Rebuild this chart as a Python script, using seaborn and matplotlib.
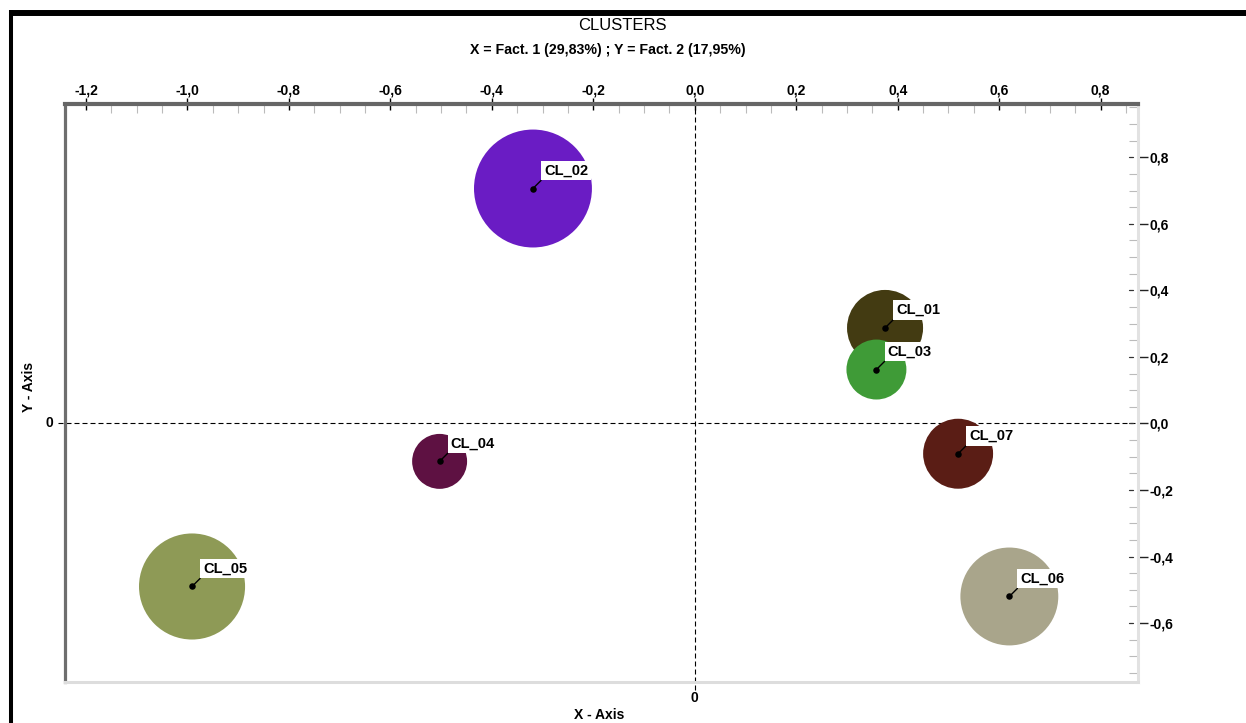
import numpy as np
import pandas as pd
import matplotlib
matplotlib.use("Agg")
import matplotlib.pyplot as plt
import matplotlib.ticker as mticker
import matplotlib.transforms as mtransforms
from matplotlib.lines import Line2D
import seaborn as sns

# Cluster centroids on the first factorial plane
clusters = ["CL_01", "CL_02", "CL_03", "CL_04", "CL_05", "CL_06", "CL_07"]
fact1 = [0.375, -0.319, 0.358, -0.503, -0.991, 0.620, 0.519]
fact2 = [0.287, 0.706, 0.162, -0.114, -0.490, -0.520, -0.091]
share = [11.1, 26.7, 6.9, 5.8, 21.6, 18.4, 9.4]   # % of individuals per cluster
colors = ["#433b12", "#6a1cc4", "#3f9b37", "#5e1142", "#8e9a56", "#a9a58b", "#5a1d15"]

x_ticks = [-1.2, -1.0, -0.8, -0.6, -0.4, -0.2, 0.0, 0.2, 0.4, 0.6, 0.8]
y_ticks = [-0.6, -0.4, -0.2, 0.0, 0.2, 0.4, 0.6, 0.8]

title = "CLUSTERS"
subtitle = "X = Fact. 1 (29,83%) ; Y = Fact. 2 (17,95%)"
x_label = "X - Axis"
y_label = "Y - Axis"

W, H, DPI = 1246, 723, 100
sns.set_theme(style="white")
plt.rcParams["font.family"] = ["Liberation Sans", "DejaVu Sans"]


def comma(v):
    return f"{v:.1f}".replace(".", ",").replace("-0,0", "0,0")


df = pd.DataFrame({"cluster": clusters, "f1": fact1, "f2": fact2, "share": share})

fig = plt.figure(figsize=(W / DPI, H / DPI), dpi=DPI)
fig.patch.set_facecolor("white")
ax = fig.add_axes([65 / W, 41 / H, 1073 / W, 578 / H])
ax.set_facecolor("white")
ax.set_xlim(-1.2414, 0.8736)
ax.set_ylim(-0.777, 0.960)

# bubbles: marker area proportional to cluster share
AREA_PER_PCT = 270.0
sns.scatterplot(data=df, x="f1", y="f2", hue="cluster",
                palette=dict(zip(clusters, colors)), size="share",
                sizes=(0, 100 * AREA_PER_PCT), size_norm=(0, 100),
                linewidth=0, alpha=1, legend=False, ax=ax, zorder=2)
sns.scatterplot(data=df, x="f1", y="f2", color="black", s=22,
                linewidth=0, legend=False, ax=ax, zorder=3)
ax.set_xlabel("")
ax.set_ylabel("")

for name, x, y in zip(clusters, fact1, fact2):
    ax.annotate(name, xy=(x, y), xytext=(11, 11), textcoords="offset pixels",
                ha="left", va="bottom", fontsize=10.5, fontweight="bold",
                color="black", zorder=5,
                bbox=dict(boxstyle="square,pad=0.2", fc="white", ec="none"),
                arrowprops=dict(arrowstyle="-", color="black", lw=1,
                                shrinkA=0, shrinkB=0, relpos=(0, 0)))

# dashed origin lines
th = mtransforms.blended_transform_factory(ax.transAxes, ax.transData)
tv = mtransforms.blended_transform_factory(ax.transData, ax.transAxes)
ax.plot([-7 / 1073, 1], [0, 0], transform=th, color="black", lw=0.8,
        ls=(0, (4.5, 2.7)), clip_on=False, zorder=1)
ax.plot([0, 0], [-8 / 578, 1], transform=tv, color="black", lw=0.8,
        ls=(0, (4.5, 2.7)), clip_on=False, zorder=1)

# spines
ax.spines["top"].set(color="#666666", linewidth=3)
ax.spines["left"].set(color="#6e6e6e", linewidth=2.3)
ax.spines["bottom"].set(color="#dddddd", linewidth=2.2)
ax.spines["right"].set(color="#e2e2e2", linewidth=2.2)
for s in ax.spines.values():
    s.set_visible(True)

# top x axis
ax.xaxis.tick_top()
ax.set_xticks(x_ticks)
ax.set_xticklabels([comma(v) for v in x_ticks], fontweight="bold")
ax.xaxis.set_minor_locator(mticker.MultipleLocator(0.05))
ax.tick_params(axis="x", which="major", direction="inout", length=9, width=1,
               color="black", pad=0.5, labelsize=10, labelcolor="black",
               top=True, bottom=False, labeltop=True, labelbottom=False)
ax.tick_params(axis="x", which="minor", direction="in", length=6.5, width=0.8,
               color="#bbbbbb", top=True, bottom=False)

# right y axis
ax.yaxis.tick_right()
ax.set_yticks(y_ticks)
ax.set_yticklabels([comma(v) for v in y_ticks], fontweight="bold")
ax.yaxis.set_minor_locator(mticker.MultipleLocator(0.05))
ax.tick_params(axis="y", which="major", direction="out", length=7.2, width=1,
               color="#222222", pad=1, labelsize=10, labelcolor="black",
               right=True, left=False, labelright=True, labelleft=False)
ax.tick_params(axis="y", which="minor", direction="in", length=6.5, width=0.8,
               color="#bbbbbb", right=True, left=False)
for v in y_ticks:
    ax.plot([1 - 9.5 / 1073, 1 - 5.5 / 1073], [v, v], transform=th,
            color="#333333", lw=0.9, clip_on=False, zorder=1)
ax.grid(False)

# origin markers and axis names
ax.text(-16 / 1073, 0, "0", transform=th, ha="center", va="center",
        fontsize=10, fontweight="bold", color="black")
ax.text(0, -15.5 / 578, "0", transform=tv, ha="center", va="center",
        fontsize=10, fontweight="bold", color="black")
ax.text(0.498, -33 / 578, x_label, transform=ax.transAxes, ha="center",
        va="center", fontsize=10, fontweight="bold", color="black")
ax.text(-36 / 1073, 0.511, y_label, transform=ax.transAxes, ha="center",
        va="center", rotation=90, fontsize=10, fontweight="bold", color="black")

fig.text(622 / W, 1 - 25 / H, title, ha="center", va="center",
         fontsize=12, color="black")
fig.text(608 / W, 1 - 50 / H, subtitle, ha="center", va="center",
         fontsize=10.2, fontweight="bold", color="black")

# outer frame (top and left edges)
fig.add_artist(Line2D([9 / W, 1], [1 - 13 / H, 1 - 13 / H], color="black",
                      lw=4.3, solid_capstyle="butt"))
fig.add_artist(Line2D([11 / W, 11 / W], [0, 1 - 10 / H], color="black",
                      lw=2.9, solid_capstyle="butt"))

fig.savefig("out.png", dpi=DPI, facecolor="white")
